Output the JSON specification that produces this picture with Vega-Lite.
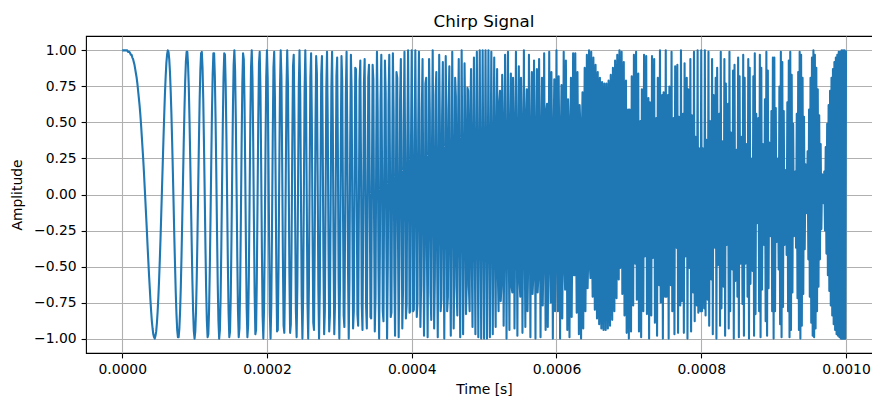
{
  "$schema": "https://vega.github.io/schema/vega-lite/v6.json",
  "autosize": {"type": "none"},
  "padding": {"left": 86, "top": 36, "right": -2, "bottom": 44},
  "width": 788,
  "height": 317,
  "title": {"text": "Chirp Signal", "font": "DejaVu Sans", "fontSize": 16.7, "fontWeight": "normal", "color": "black", "offset": 5, "anchor": "middle", "frame": "group", "dx": 4},
  "data": {"values": [
{"t":0,"a":1},{"t":1,"a":1},{"t":2,"a":1},{"t":3,"a":1},{"t":4,"a":1},{"t":5,"a":1},{"t":6,"a":1},{"t":7,"a":1},{"t":8,"a":0.99},{"t":9,"a":0.99},
{"t":10,"a":0.99},{"t":11,"a":0.98},{"t":12,"a":0.97},{"t":13,"a":0.97},{"t":14,"a":0.95},{"t":15,"a":0.94},{"t":16,"a":0.92},{"t":17,"a":0.9},{"t":18,"a":0.87},{"t":19,"a":0.84},
{"t":20,"a":0.81},{"t":21,"a":0.77},{"t":22,"a":0.72},{"t":23,"a":0.67},{"t":24,"a":0.62},{"t":25,"a":0.56},{"t":26,"a":0.49},{"t":27,"a":0.41},{"t":28,"a":0.33},{"t":29,"a":0.25},
{"t":30,"a":0.16},{"t":31,"a":0.06},{"t":32,"a":-0.04},{"t":33,"a":-0.14},{"t":34,"a":-0.24},{"t":35,"a":-0.35},{"t":36,"a":-0.45},{"t":37,"a":-0.55},{"t":38,"a":-0.64},{"t":39,"a":-0.73},
{"t":40,"a":-0.81},{"t":41,"a":-0.88},{"t":42,"a":-0.93},{"t":43,"a":-0.97},{"t":44,"a":-0.99},{"t":45,"a":-1},{"t":46,"a":-0.98},{"t":47,"a":-0.95},{"t":48,"a":-0.89},{"t":49,"a":-0.81},
{"t":50,"a":-0.71},{"t":51,"a":-0.59},{"t":52,"a":-0.45},{"t":53,"a":-0.3},{"t":54,"a":-0.13},{"t":55,"a":0.04},{"t":56,"a":0.21},{"t":57,"a":0.38},{"t":58,"a":0.54},{"t":59,"a":0.69},
{"t":60,"a":0.81},{"t":61,"a":0.91},{"t":62,"a":0.97},{"t":63,"a":1},{"t":64,"a":0.99},{"t":65,"a":0.94},{"t":66,"a":0.85},{"t":67,"a":0.72},{"t":68,"a":0.56},{"t":69,"a":0.37},
{"t":70,"a":0.16},{"t":71,"a":-0.06},{"t":72,"a":-0.29},{"t":73,"a":-0.49},{"t":74,"a":-0.68},{"t":75,"a":-0.83},{"t":76,"a":-0.94},{"t":77,"a":-0.99},{"t":78,"a":-0.99},{"t":79,"a":-0.93},
{"t":80,"a":-0.81},{"t":81,"a":-0.64},{"t":82,"a":-0.42},{"t":83,"a":-0.17},{"t":84,"a":0.09},{"t":85,"a":0.35},{"t":86,"a":0.58},{"t":87,"a":0.78},{"t":88,"a":0.92},{"t":89,"a":0.99},
{"t":90,"a":0.99},{"t":91,"a":0.9},{"t":92,"a":0.75},{"t":93,"a":0.52},{"t":94,"a":0.25},{"t":95,"a":-0.04},{"t":96,"a":-0.33},{"t":97,"a":-0.6},{"t":98,"a":-0.81},{"t":99,"a":-0.95},
{"t":100,"a":-1},{"t":101,"a":-0.95},{"t":102,"a":-0.81},{"t":103,"a":-0.58},{"t":104,"a":-0.29},{"t":105,"a":0.04},{"t":106,"a":0.36},{"t":107,"a":0.65},{"t":108,"a":0.86},{"t":109,"a":0.98},
{"t":110,"a":0.99},{"t":111,"a":0.88},{"t":112,"a":0.66},{"t":113,"a":0.35},{"t":114,"a":0.01},{"t":115,"a":-0.35},{"t":116,"a":-0.66},{"t":117,"a":-0.88},{"t":118,"a":-0.99},{"t":119,"a":-0.97},
{"t":120,"a":-0.81},{"t":121,"a":-0.53},{"t":122,"a":-0.18},{"t":123,"a":0.2},{"t":124,"a":0.56},{"t":125,"a":0.83},{"t":126,"a":0.98},{"t":127,"a":0.98},{"t":128,"a":0.82},{"t":129,"a":0.53},
{"t":130,"a":0.16},{"t":131,"a":-0.25},{"t":132,"a":-0.62},{"t":133,"a":-0.88},{"t":134,"a":-1},{"t":135,"a":-0.94},{"t":136,"a":-0.71},{"t":137,"a":-0.35},{"t":138,"a":0.07},{"t":139,"a":0.48},
{"t":140,"a":0.81},{"t":141,"a":0.98},{"t":142,"a":0.97},{"t":143,"a":0.76},{"t":144,"a":0.4},{"t":145,"a":-0.04},{"t":146,"a":-0.48},{"t":147,"a":-0.82},{"t":148,"a":-0.99},{"t":149,"a":-0.95},
{"t":150,"a":-0.71},{"t":151,"a":-0.31},{"t":152,"a":0.16},{"t":153,"a":0.6},{"t":154,"a":0.9},{"t":155,"a":1},{"t":156,"a":0.86},{"t":157,"a":0.52},{"t":158,"a":0.06},{"t":159,"a":-0.43},
{"t":160,"a":-0.81},{"t":161,"a":-0.99},{"t":162,"a":-0.93},{"t":163,"a":-0.63},{"t":164,"a":-0.16},{"t":165,"a":0.35},{"t":166,"a":0.77},{"t":167,"a":0.98},{"t":168,"a":0.94},{"t":169,"a":0.64},
{"t":170,"a":0.16},{"t":171,"a":-0.37},{"t":172,"a":-0.79},{"t":173,"a":-0.99},{"t":174,"a":-0.91},{"t":175,"a":-0.56},{"t":176,"a":-0.04},{"t":177,"a":0.49},{"t":178,"a":0.88},{"t":179,"a":1},
{"t":180,"a":0.81},{"t":181,"a":0.37},{"t":182,"a":-0.19},{"t":183,"a":-0.69},{"t":184,"a":-0.97},{"t":185,"a":-0.94},{"t":186,"a":-0.59},{"t":187,"a":-0.05},{"t":188,"a":0.51},{"t":189,"a":0.91},
{"t":190,"a":0.99},{"t":191,"a":0.73},{"t":192,"a":0.21},{"t":193,"a":-0.38},{"t":194,"a":-0.84},{"t":195,"a":-1},{"t":196,"a":-0.79},{"t":197,"a":-0.3},{"t":198,"a":0.32},{"t":199,"a":0.81},
{"t":200,"a":1},{"t":201,"a":0.81},{"t":202,"a":0.3},{"t":203,"a":-0.32},{"t":204,"a":-0.82},{"t":205,"a":-1},{"t":206,"a":-0.77},{"t":207,"a":-0.24},{"t":208,"a":0.4},{"t":209,"a":0.88},
{"t":210,"a":0.99},{"t":211,"a":0.68},{"t":212,"a":0.09},{"t":213,"a":-0.55},{"t":214,"a":-0.95},{"t":215,"a":-0.94},{"t":216,"a":-0.51},{"t":217,"a":0.14},{"t":218,"a":0.73},{"t":219,"a":1},
{"t":220,"a":0.81},{"t":221,"a":0.25},{"t":222,"a":-0.43},{"t":223,"a":-0.91},{"t":224,"a":-0.96},{"t":225,"a":-0.56},{"t":226,"a":0.12},{"t":227,"a":0.74},{"t":228,"a":1},{"t":229,"a":0.77},
{"t":230,"a":0.16},{"t":231,"a":-0.54},{"t":232,"a":-0.96},{"t":233,"a":-0.9},{"t":234,"a":-0.37},{"t":235,"a":0.35},{"t":236,"a":0.89},{"t":237,"a":0.97},{"t":238,"a":0.53},{"t":239,"a":-0.19},
{"t":240,"a":-0.81},{"t":241,"a":-0.99},{"t":242,"a":-0.63},{"t":243,"a":0.08},{"t":244,"a":0.75},{"t":245,"a":1},{"t":246,"a":0.69},{"t":247,"a":-0.01},{"t":248,"a":-0.71},{"t":249,"a":-1},
{"t":250,"a":-0.71},{"t":251,"a":0},{"t":252,"a":0.71},{"t":253,"a":1},{"t":254,"a":0.69},{"t":255,"a":-0.04},{"t":256,"a":-0.75},{"t":257,"a":-1},{"t":258,"a":-0.63},{"t":259,"a":0.13},
{"t":260,"a":0.81},{"t":261,"a":0.98},{"t":262,"a":0.53},{"t":263,"a":-0.26},{"t":264,"a":-0.89},{"t":265,"a":-0.94},{"t":266,"a":-0.37},{"t":267,"a":0.44},{"t":268,"a":0.96},{"t":269,"a":0.84},
{"t":270,"a":0.16},{"t":271,"a":-0.64},{"t":272,"a":-1},{"t":273,"a":-0.67},{"t":274,"a":0.12},{"t":275,"a":0.83},{"t":276,"a":0.96},{"t":277,"a":0.41},{"t":278,"a":-0.43},{"t":279,"a":-0.97},
{"t":280,"a":-0.81},{"t":281,"a":-0.06},{"t":282,"a":0.73},{"t":283,"a":0.99},{"t":284,"a":0.51},{"t":285,"a":-0.35},{"t":286,"a":-0.95},{"t":287,"a":-0.84},{"t":288,"a":-0.09},{"t":289,"a":0.73},
{"t":290,"a":0.99},{"t":291,"a":0.48},{"t":292,"a":-0.4},{"t":293,"a":-0.97},{"t":294,"a":-0.77},{"t":295,"a":0.04},{"t":296,"a":0.82},{"t":297,"a":0.95},{"t":298,"a":0.3},{"t":299,"a":-0.59},
{"t":300,"a":-1},{"t":301,"a":-0.59},{"t":302,"a":0.32},{"t":303,"a":0.96},{"t":304,"a":0.79},{"t":305,"a":-0.04},{"t":306,"a":-0.84},{"t":307,"a":-0.92},{"t":308,"a":-0.21},{"t":309,"a":0.69},
{"t":310,"a":0.99},{"t":311,"a":0.42},{"t":312,"a":-0.51},{"t":313,"a":-1},{"t":314,"a":-0.59},{"t":315,"a":0.35},{"t":316,"a":0.97},{"t":317,"a":0.72},{"t":318,"a":-0.19},{"t":319,"a":-0.93},
{"t":320,"a":-0.81},{"t":321,"a":0.06},{"t":322,"a":0.88},{"t":323,"a":0.87},{"t":324,"a":0.04},{"t":325,"a":-0.83},{"t":326,"a":-0.91},{"t":327,"a":-0.11},{"t":328,"a":0.79},{"t":329,"a":0.93},
{"t":330,"a":0.16},{"t":331,"a":-0.77},{"t":332,"a":-0.94},{"t":333,"a":-0.17},{"t":334,"a":0.77},{"t":335,"a":0.94},{"t":336,"a":0.16},{"t":337,"a":-0.78},{"t":338,"a":-0.93},{"t":339,"a":-0.12},
{"t":340,"a":0.81},{"t":341,"a":0.9},{"t":342,"a":0.06},{"t":343,"a":-0.85},{"t":344,"a":-0.86},{"t":345,"a":0.04},{"t":346,"a":0.9},{"t":347,"a":0.8},{"t":348,"a":-0.16},{"t":349,"a":-0.95},
{"t":350,"a":-0.71},{"t":351,"a":0.31},{"t":352,"a":0.99},{"t":353,"a":0.58},{"t":354,"a":-0.48},{"t":355,"a":-1},{"t":356,"a":-0.4},{"t":357,"a":0.65},{"t":358,"a":0.97},{"t":359,"a":0.19},
{"t":360,"a":-0.81},{"t":361,"a":-0.88},{"t":362,"a":0.07},{"t":363,"a":0.93},{"t":364,"a":0.71},{"t":365,"a":-0.35},{"t":366,"a":-1},{"t":367,"a":-0.47},{"t":368,"a":0.62},{"t":369,"a":0.97},
{"t":370,"a":0.16},{"t":371,"a":-0.85},{"t":372,"a":-0.82},{"t":373,"a":0.2},{"t":374,"a":0.98},{"t":375,"a":0.56},{"t":376,"a":-0.56},{"t":377,"a":-0.98},{"t":378,"a":-0.18},{"t":379,"a":0.85},
{"t":380,"a":0.81},{"t":381,"a":-0.25},{"t":382,"a":-0.99},{"t":383,"a":-0.47},{"t":384,"a":0.66},{"t":385,"a":0.94},{"t":386,"a":0.01},{"t":387,"a":-0.93},{"t":388,"a":-0.66},{"t":389,"a":0.48},
{"t":390,"a":0.99},{"t":391,"a":0.19},{"t":392,"a":-0.86},{"t":393,"a":-0.76},{"t":394,"a":0.36},{"t":395,"a":1},{"t":396,"a":0.29},{"t":397,"a":-0.82},{"t":398,"a":-0.81},{"t":399,"a":0.31},
{"t":400,"a":1},{"t":401,"a":0.31},{"t":402,"a":-0.81},{"t":403,"a":-0.8},{"t":404,"a":0.33},{"t":405,"a":1},{"t":406,"a":0.25},{"t":407,"a":-0.85},{"t":408,"a":-0.75},{"t":409,"a":0.43},
{"t":410,"a":0.99},{"t":411,"a":0.12},{"t":412,"a":-0.92},{"t":413,"a":-0.63},{"t":414,"a":0.58},{"t":415,"a":0.94},{"t":416,"a":-0.09},{"t":417,"a":-0.98},{"t":418,"a":-0.42},{"t":419,"a":0.77},
{"t":420,"a":0.81},{"t":421,"a":-0.37},{"t":422,"a":-0.99},{"t":423,"a":-0.11},{"t":424,"a":0.94},{"t":425,"a":0.56},{"t":426,"a":-0.68},{"t":427,"a":-0.87},{"t":428,"a":0.29},{"t":429,"a":1},
{"t":430,"a":0.16},{"t":431,"a":-0.93},{"t":432,"a":-0.56},{"t":433,"a":0.69},{"t":434,"a":0.85},{"t":435,"a":-0.35},{"t":436,"a":-0.99},{"t":437,"a":-0.05},{"t":438,"a":0.97},{"t":439,"a":0.42},
{"t":440,"a":-0.81},{"t":441,"a":-0.73},{"t":442,"a":0.54},{"t":443,"a":0.92},{"t":444,"a":-0.21},{"t":445,"a":-1},{"t":446,"a":-0.13},{"t":447,"a":0.96},{"t":448,"a":0.45},{"t":449,"a":-0.81},
{"t":450,"a":-0.71},{"t":451,"a":0.59},{"t":452,"a":0.89},{"t":453,"a":-0.32},{"t":454,"a":-0.98},{"t":455,"a":0.04},{"t":456,"a":0.99},{"t":457,"a":0.23},{"t":458,"a":-0.93},{"t":459,"a":-0.48},
{"t":460,"a":0.81},{"t":461,"a":0.68},{"t":462,"a":-0.64},{"t":463,"a":-0.84},{"t":464,"a":0.45},{"t":465,"a":0.94},{"t":466,"a":-0.24},{"t":467,"a":-0.99},{"t":468,"a":0.04},{"t":469,"a":1},
{"t":470,"a":0.16},{"t":471,"a":-0.97},{"t":472,"a":-0.33},{"t":473,"a":0.91},{"t":474,"a":0.49},{"t":475,"a":-0.83},{"t":476,"a":-0.62},{"t":477,"a":0.74},{"t":478,"a":0.72},{"t":479,"a":-0.64},
{"t":480,"a":-0.81},{"t":481,"a":0.54},{"t":482,"a":0.87},{"t":483,"a":-0.44},{"t":484,"a":-0.92},{"t":485,"a":0.35},{"t":486,"a":0.95},{"t":487,"a":-0.26},{"t":488,"a":-0.97},{"t":489,"a":0.19},
{"t":490,"a":0.99},{"t":491,"a":-0.13},{"t":492,"a":-0.99},{"t":493,"a":0.08},{"t":494,"a":1},{"t":495,"a":-0.04},{"t":496,"a":-1},{"t":497,"a":0.01},{"t":498,"a":1},{"t":499,"a":0},
{"t":500,"a":-1},{"t":501,"a":0},{"t":502,"a":1},{"t":503,"a":-0.01},{"t":504,"a":-1},{"t":505,"a":0.04},{"t":506,"a":1},{"t":507,"a":-0.08},{"t":508,"a":-0.99},{"t":509,"a":0.13},
{"t":510,"a":0.99},{"t":511,"a":-0.19},{"t":512,"a":-0.97},{"t":513,"a":0.26},{"t":514,"a":0.95},{"t":515,"a":-0.35},{"t":516,"a":-0.92},{"t":517,"a":0.44},{"t":518,"a":0.87},{"t":519,"a":-0.54},
{"t":520,"a":-0.81},{"t":521,"a":0.64},{"t":522,"a":0.72},{"t":523,"a":-0.74},{"t":524,"a":-0.62},{"t":525,"a":0.83},{"t":526,"a":0.49},{"t":527,"a":-0.91},{"t":528,"a":-0.33},{"t":529,"a":0.97},
{"t":530,"a":0.16},{"t":531,"a":-1},{"t":532,"a":0.04},{"t":533,"a":0.99},{"t":534,"a":-0.24},{"t":535,"a":-0.94},{"t":536,"a":0.45},{"t":537,"a":0.84},{"t":538,"a":-0.64},{"t":539,"a":-0.68},
{"t":540,"a":0.81},{"t":541,"a":0.48},{"t":542,"a":-0.93},{"t":543,"a":-0.23},{"t":544,"a":0.99},{"t":545,"a":-0.04},{"t":546,"a":-0.98},{"t":547,"a":0.32},{"t":548,"a":0.89},{"t":549,"a":-0.59},
{"t":550,"a":-0.71},{"t":551,"a":0.81},{"t":552,"a":0.45},{"t":553,"a":-0.96},{"t":554,"a":-0.13},{"t":555,"a":1},{"t":556,"a":-0.21},{"t":557,"a":-0.92},{"t":558,"a":0.54},{"t":559,"a":0.73},
{"t":560,"a":-0.81},{"t":561,"a":-0.42},{"t":562,"a":0.97},{"t":563,"a":0.05},{"t":564,"a":-0.99},{"t":565,"a":0.35},{"t":566,"a":0.85},{"t":567,"a":-0.69},{"t":568,"a":-0.56},{"t":569,"a":0.93},
{"t":570,"a":0.16},{"t":571,"a":-1},{"t":572,"a":0.29},{"t":573,"a":0.87},{"t":574,"a":-0.68},{"t":575,"a":-0.56},{"t":576,"a":0.94},{"t":577,"a":0.11},{"t":578,"a":-0.99},{"t":579,"a":0.37},
{"t":580,"a":0.81},{"t":581,"a":-0.77},{"t":582,"a":-0.42},{"t":583,"a":0.98},{"t":584,"a":-0.09},{"t":585,"a":-0.94},{"t":586,"a":0.58},{"t":587,"a":0.63},{"t":588,"a":-0.92},{"t":589,"a":-0.12},
{"t":590,"a":0.99},{"t":591,"a":-0.43},{"t":592,"a":-0.75},{"t":593,"a":0.85},{"t":594,"a":0.25},{"t":595,"a":-1},{"t":596,"a":0.33},{"t":597,"a":0.8},{"t":598,"a":-0.81},{"t":599,"a":-0.31},
{"t":600,"a":1},{"t":601,"a":-0.31},{"t":602,"a":-0.81},{"t":603,"a":0.82},{"t":604,"a":0.29},{"t":605,"a":-1},{"t":606,"a":0.36},{"t":607,"a":0.76},{"t":608,"a":-0.86},{"t":609,"a":-0.19},
{"t":610,"a":0.99},{"t":611,"a":-0.48},{"t":612,"a":-0.66},{"t":613,"a":0.93},{"t":614,"a":0.01},{"t":615,"a":-0.94},{"t":616,"a":0.66},{"t":617,"a":0.47},{"t":618,"a":-0.99},{"t":619,"a":0.25},
{"t":620,"a":0.81},{"t":621,"a":-0.85},{"t":622,"a":-0.18},{"t":623,"a":0.98},{"t":624,"a":-0.56},{"t":625,"a":-0.56},{"t":626,"a":0.98},{"t":627,"a":-0.2},{"t":628,"a":-0.82},{"t":629,"a":0.85},
{"t":630,"a":0.16},{"t":631,"a":-0.97},{"t":632,"a":0.62},{"t":633,"a":0.47},{"t":634,"a":-1},{"t":635,"a":0.35},{"t":636,"a":0.71},{"t":637,"a":-0.93},{"t":638,"a":0.07},{"t":639,"a":0.88},
{"t":640,"a":-0.81},{"t":641,"a":-0.19},{"t":642,"a":0.97},{"t":643,"a":-0.65},{"t":644,"a":-0.4},{"t":645,"a":1},{"t":646,"a":-0.48},{"t":647,"a":-0.58},{"t":648,"a":0.99},{"t":649,"a":-0.31},
{"t":650,"a":-0.71},{"t":651,"a":0.95},{"t":652,"a":-0.16},{"t":653,"a":-0.8},{"t":654,"a":0.9},{"t":655,"a":-0.04},{"t":656,"a":-0.86},{"t":657,"a":0.85},{"t":658,"a":0.06},{"t":659,"a":-0.9},
{"t":660,"a":0.81},{"t":661,"a":0.12},{"t":662,"a":-0.93},{"t":663,"a":0.78},{"t":664,"a":0.16},{"t":665,"a":-0.94},{"t":666,"a":0.77},{"t":667,"a":0.17},{"t":668,"a":-0.94},{"t":669,"a":0.77},
{"t":670,"a":0.16},{"t":671,"a":-0.93},{"t":672,"a":0.79},{"t":673,"a":0.11},{"t":674,"a":-0.91},{"t":675,"a":0.83},{"t":676,"a":0.04},{"t":677,"a":-0.87},{"t":678,"a":0.88},{"t":679,"a":-0.06},
{"t":680,"a":-0.81},{"t":681,"a":0.93},{"t":682,"a":-0.19},{"t":683,"a":-0.72},{"t":684,"a":0.97},{"t":685,"a":-0.35},{"t":686,"a":-0.59},{"t":687,"a":1},{"t":688,"a":-0.51},{"t":689,"a":-0.42},
{"t":690,"a":0.99},{"t":691,"a":-0.69},{"t":692,"a":-0.21},{"t":693,"a":0.92},{"t":694,"a":-0.84},{"t":695,"a":0.04},{"t":696,"a":0.79},{"t":697,"a":-0.96},{"t":698,"a":0.32},{"t":699,"a":0.59},
{"t":700,"a":-1},{"t":701,"a":0.59},{"t":702,"a":0.3},{"t":703,"a":-0.95},{"t":704,"a":0.82},{"t":705,"a":-0.04},{"t":706,"a":-0.77},{"t":707,"a":0.97},{"t":708,"a":-0.4},{"t":709,"a":-0.48},
{"t":710,"a":0.99},{"t":711,"a":-0.73},{"t":712,"a":-0.09},{"t":713,"a":0.84},{"t":714,"a":-0.95},{"t":715,"a":0.35},{"t":716,"a":0.51},{"t":717,"a":-0.99},{"t":718,"a":0.73},{"t":719,"a":0.06},
{"t":720,"a":-0.81},{"t":721,"a":0.97},{"t":722,"a":-0.43},{"t":723,"a":-0.41},{"t":724,"a":0.96},{"t":725,"a":-0.83},{"t":726,"a":0.12},{"t":727,"a":0.67},{"t":728,"a":-1},{"t":729,"a":0.64},
{"t":730,"a":0.16},{"t":731,"a":-0.84},{"t":732,"a":0.96},{"t":733,"a":-0.44},{"t":734,"a":-0.37},{"t":735,"a":0.94},{"t":736,"a":-0.89},{"t":737,"a":0.26},{"t":738,"a":0.53},{"t":739,"a":-0.98},
{"t":740,"a":0.81},{"t":741,"a":-0.13},{"t":742,"a":-0.63},{"t":743,"a":1},{"t":744,"a":-0.75},{"t":745,"a":0.04},{"t":746,"a":0.69},{"t":747,"a":-1},{"t":748,"a":0.71},{"t":749,"a":0},
{"t":750,"a":-0.71},{"t":751,"a":1},{"t":752,"a":-0.71},{"t":753,"a":0.01},{"t":754,"a":0.69},{"t":755,"a":-1},{"t":756,"a":0.75},{"t":757,"a":-0.08},{"t":758,"a":-0.63},{"t":759,"a":0.99},
{"t":760,"a":-0.81},{"t":761,"a":0.19},{"t":762,"a":0.53},{"t":763,"a":-0.97},{"t":764,"a":0.89},{"t":765,"a":-0.35},{"t":766,"a":-0.37},{"t":767,"a":0.9},{"t":768,"a":-0.96},{"t":769,"a":0.54},
{"t":770,"a":0.16},{"t":771,"a":-0.77},{"t":772,"a":1},{"t":773,"a":-0.74},{"t":774,"a":0.12},{"t":775,"a":0.56},{"t":776,"a":-0.96},{"t":777,"a":0.91},{"t":778,"a":-0.43},{"t":779,"a":-0.25},
{"t":780,"a":0.81},{"t":781,"a":-1},{"t":782,"a":0.73},{"t":783,"a":-0.14},{"t":784,"a":-0.51},{"t":785,"a":0.94},{"t":786,"a":-0.95},{"t":787,"a":0.55},{"t":788,"a":0.09},{"t":789,"a":-0.68},
{"t":790,"a":0.99},{"t":791,"a":-0.88},{"t":792,"a":0.4},{"t":793,"a":0.24},{"t":794,"a":-0.77},{"t":795,"a":1},{"t":796,"a":-0.82},{"t":797,"a":0.32},{"t":798,"a":0.3},{"t":799,"a":-0.81},
{"t":800,"a":1},{"t":801,"a":-0.81},{"t":802,"a":0.32},{"t":803,"a":0.3},{"t":804,"a":-0.79},{"t":805,"a":1},{"t":806,"a":-0.84},{"t":807,"a":0.38},{"t":808,"a":0.21},{"t":809,"a":-0.73},
{"t":810,"a":0.99},{"t":811,"a":-0.91},{"t":812,"a":0.51},{"t":813,"a":0.05},{"t":814,"a":-0.59},{"t":815,"a":0.94},{"t":816,"a":-0.97},{"t":817,"a":0.69},{"t":818,"a":-0.19},{"t":819,"a":-0.37},
{"t":820,"a":0.81},{"t":821,"a":-1},{"t":822,"a":0.88},{"t":823,"a":-0.49},{"t":824,"a":-0.04},{"t":825,"a":0.56},{"t":826,"a":-0.91},{"t":827,"a":0.99},{"t":828,"a":-0.79},{"t":829,"a":0.37},
{"t":830,"a":0.16},{"t":831,"a":-0.64},{"t":832,"a":0.94},{"t":833,"a":-0.98},{"t":834,"a":0.77},{"t":835,"a":-0.35},{"t":836,"a":-0.16},{"t":837,"a":0.63},{"t":838,"a":-0.93},{"t":839,"a":0.99},
{"t":840,"a":-0.81},{"t":841,"a":0.43},{"t":842,"a":0.06},{"t":843,"a":-0.52},{"t":844,"a":0.86},{"t":845,"a":-1},{"t":846,"a":0.9},{"t":847,"a":-0.6},{"t":848,"a":0.16},{"t":849,"a":0.31},
{"t":850,"a":-0.71},{"t":851,"a":0.95},{"t":852,"a":-0.99},{"t":853,"a":0.82},{"t":854,"a":-0.48},{"t":855,"a":0.04},{"t":856,"a":0.4},{"t":857,"a":-0.76},{"t":858,"a":0.97},{"t":859,"a":-0.98},
{"t":860,"a":0.81},{"t":861,"a":-0.48},{"t":862,"a":0.07},{"t":863,"a":0.35},{"t":864,"a":-0.71},{"t":865,"a":0.94},{"t":866,"a":-1},{"t":867,"a":0.88},{"t":868,"a":-0.62},{"t":869,"a":0.25},
{"t":870,"a":0.16},{"t":871,"a":-0.53},{"t":872,"a":0.82},{"t":873,"a":-0.98},{"t":874,"a":0.98},{"t":875,"a":-0.83},{"t":876,"a":0.56},{"t":877,"a":-0.2},{"t":878,"a":-0.18},{"t":879,"a":0.53},
{"t":880,"a":-0.81},{"t":881,"a":0.97},{"t":882,"a":-0.99},{"t":883,"a":0.88},{"t":884,"a":-0.66},{"t":885,"a":0.35},{"t":886,"a":0.01},{"t":887,"a":-0.35},{"t":888,"a":0.66},{"t":889,"a":-0.88},
{"t":890,"a":0.99},{"t":891,"a":-0.98},{"t":892,"a":0.86},{"t":893,"a":-0.65},{"t":894,"a":0.36},{"t":895,"a":-0.04},{"t":896,"a":-0.29},{"t":897,"a":0.58},{"t":898,"a":-0.81},{"t":899,"a":0.95},
{"t":900,"a":-1},{"t":901,"a":0.95},{"t":902,"a":-0.81},{"t":903,"a":0.6},{"t":904,"a":-0.33},{"t":905,"a":0.04},{"t":906,"a":0.25},{"t":907,"a":-0.52},{"t":908,"a":0.75},{"t":909,"a":-0.9},
{"t":910,"a":0.99},{"t":911,"a":-0.99},{"t":912,"a":0.92},{"t":913,"a":-0.78},{"t":914,"a":0.58},{"t":915,"a":-0.35},{"t":916,"a":0.09},{"t":917,"a":0.17},{"t":918,"a":-0.42},{"t":919,"a":0.64},
{"t":920,"a":-0.81},{"t":921,"a":0.93},{"t":922,"a":-0.99},{"t":923,"a":0.99},{"t":924,"a":-0.94},{"t":925,"a":0.83},{"t":926,"a":-0.68},{"t":927,"a":0.49},{"t":928,"a":-0.29},{"t":929,"a":0.06},
{"t":930,"a":0.16},{"t":931,"a":-0.37},{"t":932,"a":0.56},{"t":933,"a":-0.72},{"t":934,"a":0.85},{"t":935,"a":-0.94},{"t":936,"a":0.99},{"t":937,"a":-1},{"t":938,"a":0.97},{"t":939,"a":-0.91},
{"t":940,"a":0.81},{"t":941,"a":-0.69},{"t":942,"a":0.54},{"t":943,"a":-0.38},{"t":944,"a":0.21},{"t":945,"a":-0.04},{"t":946,"a":-0.13},{"t":947,"a":0.3},{"t":948,"a":-0.45},{"t":949,"a":0.59},
{"t":950,"a":-0.71},{"t":951,"a":0.81},{"t":952,"a":-0.89},{"t":953,"a":0.95},{"t":954,"a":-0.98},{"t":955,"a":1},{"t":956,"a":-0.99},{"t":957,"a":0.97},{"t":958,"a":-0.93},{"t":959,"a":0.88},
{"t":960,"a":-0.81},{"t":961,"a":0.73},{"t":962,"a":-0.64},{"t":963,"a":0.55},{"t":964,"a":-0.45},{"t":965,"a":0.35},{"t":966,"a":-0.24},{"t":967,"a":0.14},{"t":968,"a":-0.04},{"t":969,"a":-0.06},
{"t":970,"a":0.16},{"t":971,"a":-0.25},{"t":972,"a":0.33},{"t":973,"a":-0.41},{"t":974,"a":0.49},{"t":975,"a":-0.56},{"t":976,"a":0.62},{"t":977,"a":-0.67},{"t":978,"a":0.72},{"t":979,"a":-0.77},
{"t":980,"a":0.81},{"t":981,"a":-0.84},{"t":982,"a":0.87},{"t":983,"a":-0.9},{"t":984,"a":0.92},{"t":985,"a":-0.94},{"t":986,"a":0.95},{"t":987,"a":-0.97},{"t":988,"a":0.97},{"t":989,"a":-0.98},
{"t":990,"a":0.99},{"t":991,"a":-0.99},{"t":992,"a":0.99},{"t":993,"a":-1},{"t":994,"a":1},{"t":995,"a":-1},{"t":996,"a":1},{"t":997,"a":-1},{"t":998,"a":1},{"t":999,"a":-1},
{"t":1000,"a":1}
  ]},
  "encoding": {
    "x": {
      "field": "t", "type": "quantitative",
      "scale": {"domain": [-50, 1038.7], "nice": false, "zero": false},
      "axis": {
        "values": [0, 200, 400, 600, 800, 1000],
        "labelExpr": "format(datum.value / 1000000, '.4f')",
        "title": "Time [s]", "titleX": 398, "titlePadding": 6, "grid": true
      }
    },
    "y": {
      "field": "a", "type": "quantitative",
      "scale": {"domain": [-1.1, 1.1], "nice": false, "zero": false},
      "axis": {
        "values": [-1, -0.75, -0.5, -0.25, 0, 0.25, 0.5, 0.75, 1],
        "format": ".2f",
        "title": "Amplitude", "titlePadding": 9, "grid": true
      }
    }
  },
  "mark": {"type": "line", "color": "#1f77b4", "strokeWidth": 2.1, "strokeJoin": "round", "clip": true},
  "config": {
    "view": {"stroke": "black", "strokeWidth": 1.1},
    "font": "DejaVu Sans",
    "axis": {
      "domain": false,
      "tickColor": "black", "tickSize": 4.9, "tickWidth": 1.1,
      "gridColor": "#b0b0b0", "gridWidth": 1.1, "gridOpacity": 1,
      "labelFont": "DejaVu Sans", "labelFontSize": 13.9, "labelColor": "black", "labelPadding": 4.9,
      "labelFlush": false, "labelOverlap": false,
      "titleFont": "DejaVu Sans", "titleFontSize": 13.9, "titleFontWeight": "normal", "titleColor": "black"
    }
  }
}
